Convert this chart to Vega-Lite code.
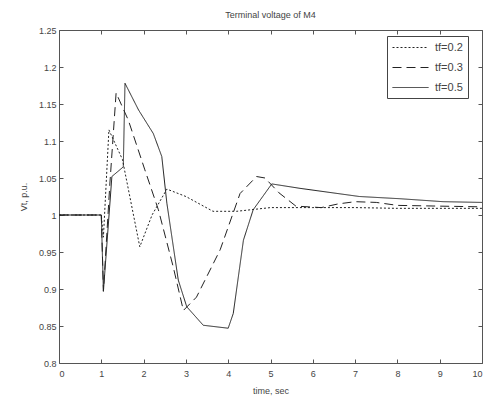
{
  "$schema": "https://vega.github.io/schema/vega-lite/v6.json",
  "width": 423,
  "height": 333,
  "autosize": {"type": "none"},
  "padding": {"left": 59, "top": 30, "right": 4, "bottom": 38},
  "background": "white",
  "config": {
    "font": "Liberation Sans",
    "view": {"stroke": null},
    "axis": {
      "grid": false,
      "domainColor": "#555",
      "tickColor": "#555",
      "tickSize": -4,
      "labelPadding": 7,
      "labelFont": "Liberation Sans",
      "labelFontSize": 9,
      "labelColor": "#444",
      "titleFont": "Liberation Sans",
      "titleFontSize": 9,
      "titleFontWeight": "normal",
      "titleColor": "#444"
    }
  },
  "title": {
    "text": "Terminal voltage of M4",
    "fontSize": 9,
    "fontWeight": "normal",
    "color": "#444",
    "font": "Liberation Sans",
    "offset": 6
  },
  "data": {
    "values": [
      {"t": 0, "v": 1.0, "s": "tf=0.2"},
      {"t": 1.0, "v": 1.0, "s": "tf=0.2"},
      {"t": 1.05, "v": 0.97, "s": "tf=0.2"},
      {"t": 1.18, "v": 1.115, "s": "tf=0.2"},
      {"t": 1.5, "v": 1.075, "s": "tf=0.2"},
      {"t": 1.91, "v": 0.957, "s": "tf=0.2"},
      {"t": 2.2, "v": 1.0, "s": "tf=0.2"},
      {"t": 2.55, "v": 1.035, "s": "tf=0.2"},
      {"t": 3.0, "v": 1.025, "s": "tf=0.2"},
      {"t": 3.64, "v": 1.005, "s": "tf=0.2"},
      {"t": 4.2, "v": 1.005, "s": "tf=0.2"},
      {"t": 5.0, "v": 1.01, "s": "tf=0.2"},
      {"t": 6.0, "v": 1.01, "s": "tf=0.2"},
      {"t": 7.0, "v": 1.01, "s": "tf=0.2"},
      {"t": 8.0, "v": 1.009, "s": "tf=0.2"},
      {"t": 9.0, "v": 1.009, "s": "tf=0.2"},
      {"t": 10.0, "v": 1.009, "s": "tf=0.2"},

      {"t": 0, "v": 1.0, "s": "tf=0.3"},
      {"t": 1.0, "v": 1.0, "s": "tf=0.3"},
      {"t": 1.05, "v": 0.897, "s": "tf=0.3"},
      {"t": 1.2, "v": 1.04, "s": "tf=0.3"},
      {"t": 1.35, "v": 1.165, "s": "tf=0.3"},
      {"t": 1.64, "v": 1.128, "s": "tf=0.3"},
      {"t": 2.03, "v": 1.061, "s": "tf=0.3"},
      {"t": 2.35, "v": 1.007, "s": "tf=0.3"},
      {"t": 2.7, "v": 0.93, "s": "tf=0.3"},
      {"t": 2.94, "v": 0.871, "s": "tf=0.3"},
      {"t": 3.25, "v": 0.889, "s": "tf=0.3"},
      {"t": 3.81, "v": 0.953, "s": "tf=0.3"},
      {"t": 4.28, "v": 1.029, "s": "tf=0.3"},
      {"t": 4.67, "v": 1.052, "s": "tf=0.3"},
      {"t": 4.87, "v": 1.05, "s": "tf=0.3"},
      {"t": 5.2, "v": 1.03, "s": "tf=0.3"},
      {"t": 5.6, "v": 1.012, "s": "tf=0.3"},
      {"t": 6.2, "v": 1.01, "s": "tf=0.3"},
      {"t": 6.6, "v": 1.015, "s": "tf=0.3"},
      {"t": 7.0, "v": 1.018, "s": "tf=0.3"},
      {"t": 7.5, "v": 1.017, "s": "tf=0.3"},
      {"t": 8.0, "v": 1.013, "s": "tf=0.3"},
      {"t": 9.0, "v": 1.012, "s": "tf=0.3"},
      {"t": 10.0, "v": 1.011, "s": "tf=0.3"},

      {"t": 0, "v": 1.0, "s": "tf=0.5"},
      {"t": 1.0, "v": 1.0, "s": "tf=0.5"},
      {"t": 1.05, "v": 0.897, "s": "tf=0.5"},
      {"t": 1.25, "v": 1.052, "s": "tf=0.5"},
      {"t": 1.52, "v": 1.065, "s": "tf=0.5"},
      {"t": 1.56, "v": 1.178, "s": "tf=0.5"},
      {"t": 1.88, "v": 1.142, "s": "tf=0.5"},
      {"t": 2.23, "v": 1.11, "s": "tf=0.5"},
      {"t": 2.43, "v": 1.079, "s": "tf=0.5"},
      {"t": 2.55, "v": 1.016, "s": "tf=0.5"},
      {"t": 2.82, "v": 0.912, "s": "tf=0.5"},
      {"t": 3.02, "v": 0.876, "s": "tf=0.5"},
      {"t": 3.41, "v": 0.851, "s": "tf=0.5"},
      {"t": 4.0, "v": 0.847, "s": "tf=0.5"},
      {"t": 4.12, "v": 0.867, "s": "tf=0.5"},
      {"t": 4.36, "v": 0.966, "s": "tf=0.5"},
      {"t": 4.59, "v": 1.007, "s": "tf=0.5"},
      {"t": 5.03, "v": 1.042, "s": "tf=0.5"},
      {"t": 5.7, "v": 1.036, "s": "tf=0.5"},
      {"t": 7.1, "v": 1.025, "s": "tf=0.5"},
      {"t": 8.06, "v": 1.022, "s": "tf=0.5"},
      {"t": 9.08, "v": 1.018, "s": "tf=0.5"},
      {"t": 10.0, "v": 1.017, "s": "tf=0.5"}
    ]
  },
  "layer": [
    {
      "mark": {"type": "line", "color": "#222", "strokeWidth": 1, "clip": true},
      "encoding": {
        "x": {
          "field": "t", "type": "quantitative",
          "scale": {"domain": [0, 10], "nice": false},
          "axis": {"values": [0,1,2,3,4,5,6,7,8,9,10], "title": "time, sec", "labelPadding": 10, "titlePadding": 8}
        },
        "y": {
          "field": "v", "type": "quantitative",
          "scale": {"domain": [0.8, 1.25], "nice": false, "zero": false},
          "axis": {"values": [0.8,0.85,0.9,0.95,1,1.05,1.1,1.15,1.2,1.25], "format": "~g", "title": "Vt, p.u.", "titlePadding": 10}
        },
        "strokeDash": {
          "field": "s", "type": "nominal",
          "scale": {"domain": ["tf=0.2", "tf=0.3", "tf=0.5"], "range": [[2, 2], [9, 5], [1, 0]]},
          "legend": {
            "title": null,
            "orient": "none",
            "legendX": 328,
            "legendY": 6,
            "strokeColor": "#444",
            "fillColor": "white",
            "padding": 5,
            "rowPadding": 8,
            "symbolType": "M-1,0H5",
            "symbolSize": 144,
            "symbolStrokeColor": "#222",
            "symbolStrokeWidth": 1,
            "labelFontSize": 11,
            "labelColor": "#444",
            "labelOffset": 30
          }
        },
        "detail": {"field": "s"}
      }
    },
    {
      "mark": {"type": "point", "opacity": 0},
      "encoding": {
        "x": {
          "field": "t", "type": "quantitative",
          "scale": {"domain": [0, 10], "nice": false},
          "axis": {"orient": "top", "values": [0,1,2,3,4,5,6,7,8,9,10], "labels": false, "title": null}
        },
        "y": {
          "field": "v", "type": "quantitative",
          "scale": {"domain": [0.8, 1.25], "nice": false, "zero": false},
          "axis": {"orient": "right", "values": [0.8,0.85,0.9,0.95,1,1.05,1.1,1.15,1.2,1.25], "labels": false, "title": null}
        }
      }
    }
  ],
  "resolve": {"axis": {"x": "independent", "y": "independent"}}
}
